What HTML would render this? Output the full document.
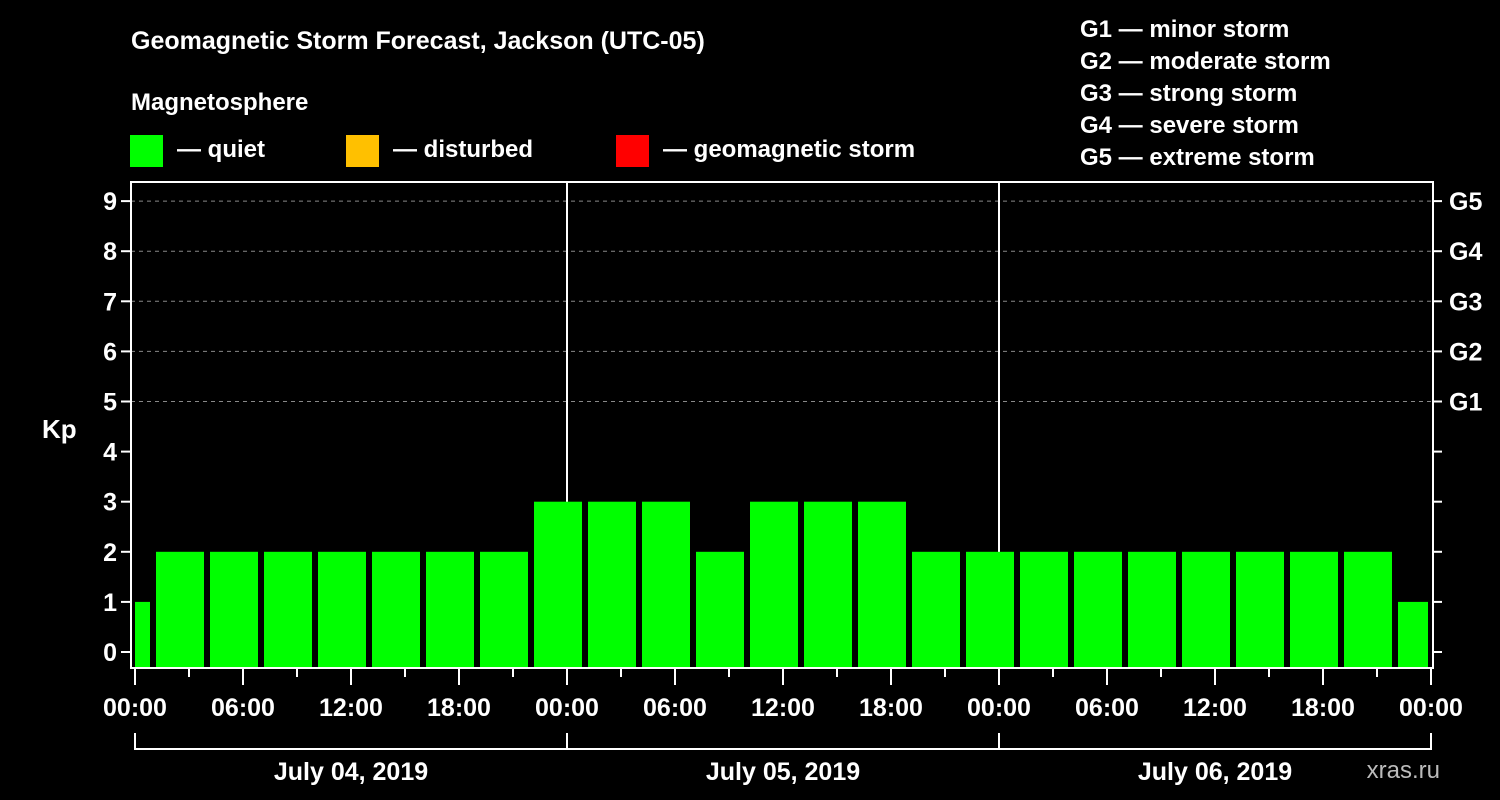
<!DOCTYPE html>
<html><head><meta charset="utf-8"><style>
html,body{margin:0;padding:0;background:#000;}
svg{display:block;font-family:"Liberation Sans",Arial,sans-serif;font-weight:bold;}
</style></head><body>
<svg id="chart" width="1500" height="800" viewBox="0 0 1500 800">
<text x="131" y="49" fill="#fff" font-size="25">Geomagnetic Storm Forecast, Jackson (UTC-05)</text>
<text x="131" y="110" fill="#fff" font-size="24">Magnetosphere</text>
<g><rect x="130" y="135" width="33" height="32" fill="#00ff00"/><text x="177" y="157" fill="#fff" font-size="24">— quiet</text></g>
<g><rect x="346" y="135" width="33" height="32" fill="#ffc000"/><text x="393" y="157" fill="#fff" font-size="24">— disturbed</text></g>
<g><rect x="616" y="135" width="33" height="32" fill="#ff0000"/><text x="663" y="157" fill="#fff" font-size="24">— geomagnetic storm</text></g>
<g fill="#fff" font-size="24">
<text x="1080" y="37">G1 — minor storm</text>
<text x="1080" y="69">G2 — moderate storm</text>
<text x="1080" y="101">G3 — strong storm</text>
<text x="1080" y="133">G4 — severe storm</text>
<text x="1080" y="165">G5 — extreme storm</text>
</g>
<text x="42" y="438" fill="#fff" font-size="26">Kp</text>
<text x="1440" y="778" fill="#bbb" font-size="24" font-weight="normal" text-anchor="end">xras.ru</text>
<g id="grid"></g><g id="bars"></g><g id="axes"></g>
</svg>
<script>
const kpValues=[1,2,2,2,2,2,2,2,3,3,3,2,3,3,3,2,2,2,2,2,2,2,2,2,1];
const yTicks=[0,1,2,3,4,5,6,7,8,9];
const gLabels=["G1","G2","G3","G4","G5"];
const xTickLabels=["00:00","06:00","12:00","18:00","00:00","06:00","12:00","18:00","00:00","06:00","12:00","18:00","00:00"];
const dayLabels=["July 04, 2019","July 05, 2019","July 06, 2019"];
const NS="http://www.w3.org/2000/svg";
const L=131,R=1433,T=182,B=668,X0=135,PXH=18;
const y=v=>652-v*50.1;
const x=h=>X0+h*PXH;
function mk(p,tag,at){const e=document.createElementNS(NS,tag);for(const k in at)e.setAttribute(k,at[k]);document.getElementById(p).appendChild(e);return e;}
// grid
for(let v=5;v<=9;v++){const g=mk("grid","line",{x1:L,x2:R,y1:y(v),y2:y(v),stroke:"#888","stroke-dasharray":"4,4","stroke-width":1});

}
// day separators
for(let d=1;d<3;d++){const s=mk("grid","line",{x1:x(24*d),x2:x(24*d),y1:T,y2:B,stroke:"#fff","stroke-width":2});

}
// bars
kpValues.forEach((v,i)=>{let s=-2+3*i,e=s+3;let x1=x(s)+3,x2=x(e)-3;x1=Math.max(x1,L+4);x2=Math.min(x2,x(72)-3);
const col=v>=5?"#ff0000":(v>=4?"#ffc000":"#00ff00");
const b=mk("bars","rect",{x:x1,y:y(v),width:x2-x1,height:B-y(v),fill:col});

});
// axes frame
const f=mk("axes","rect",{x:L,y:T,width:R-L,height:B-T,fill:"none",stroke:"#fff","stroke-width":2});


yTicks.forEach(v=>{mk("axes","line",{x1:L-10,x2:L,y1:y(v),y2:y(v),stroke:"#fff","stroke-width":2});
mk("axes","line",{x1:R,x2:R+9,y1:y(v),y2:y(v),stroke:"#fff","stroke-width":2});
const t=mk("axes","text",{x:L-14,y:y(v)+9,fill:"#fff","font-size":25,"text-anchor":"end"});t.textContent=v;

});
gLabels.forEach((g,i)=>{const t=mk("axes","text",{x:1449,y:y(5+i)+9,fill:"#fff","font-size":25});t.textContent=g;

});
for(let h=0;h<=72;h+=3){const maj=h%6===0;mk("axes","line",{x1:x(h),x2:x(h),y1:B,y2:B+(maj?17:9),stroke:"#fff","stroke-width":2});}
xTickLabels.forEach((l,i)=>{const t=mk("axes","text",{x:x(i*6),y:716,fill:"#fff","font-size":25,"text-anchor":"middle"});t.textContent=l;

});
mk("axes","line",{x1:x(0),x2:x(72),y1:749,y2:749,stroke:"#fff","stroke-width":2});
for(let d=0;d<=3;d++)mk("axes","line",{x1:x(24*d),x2:x(24*d),y1:733,y2:750,stroke:"#fff","stroke-width":2});
dayLabels.forEach((l,i)=>{const t=mk("axes","text",{x:x(24*i+12),y:780,fill:"#fff","font-size":25,"text-anchor":"middle"});t.textContent=l;

});
</script>
</body></html>
